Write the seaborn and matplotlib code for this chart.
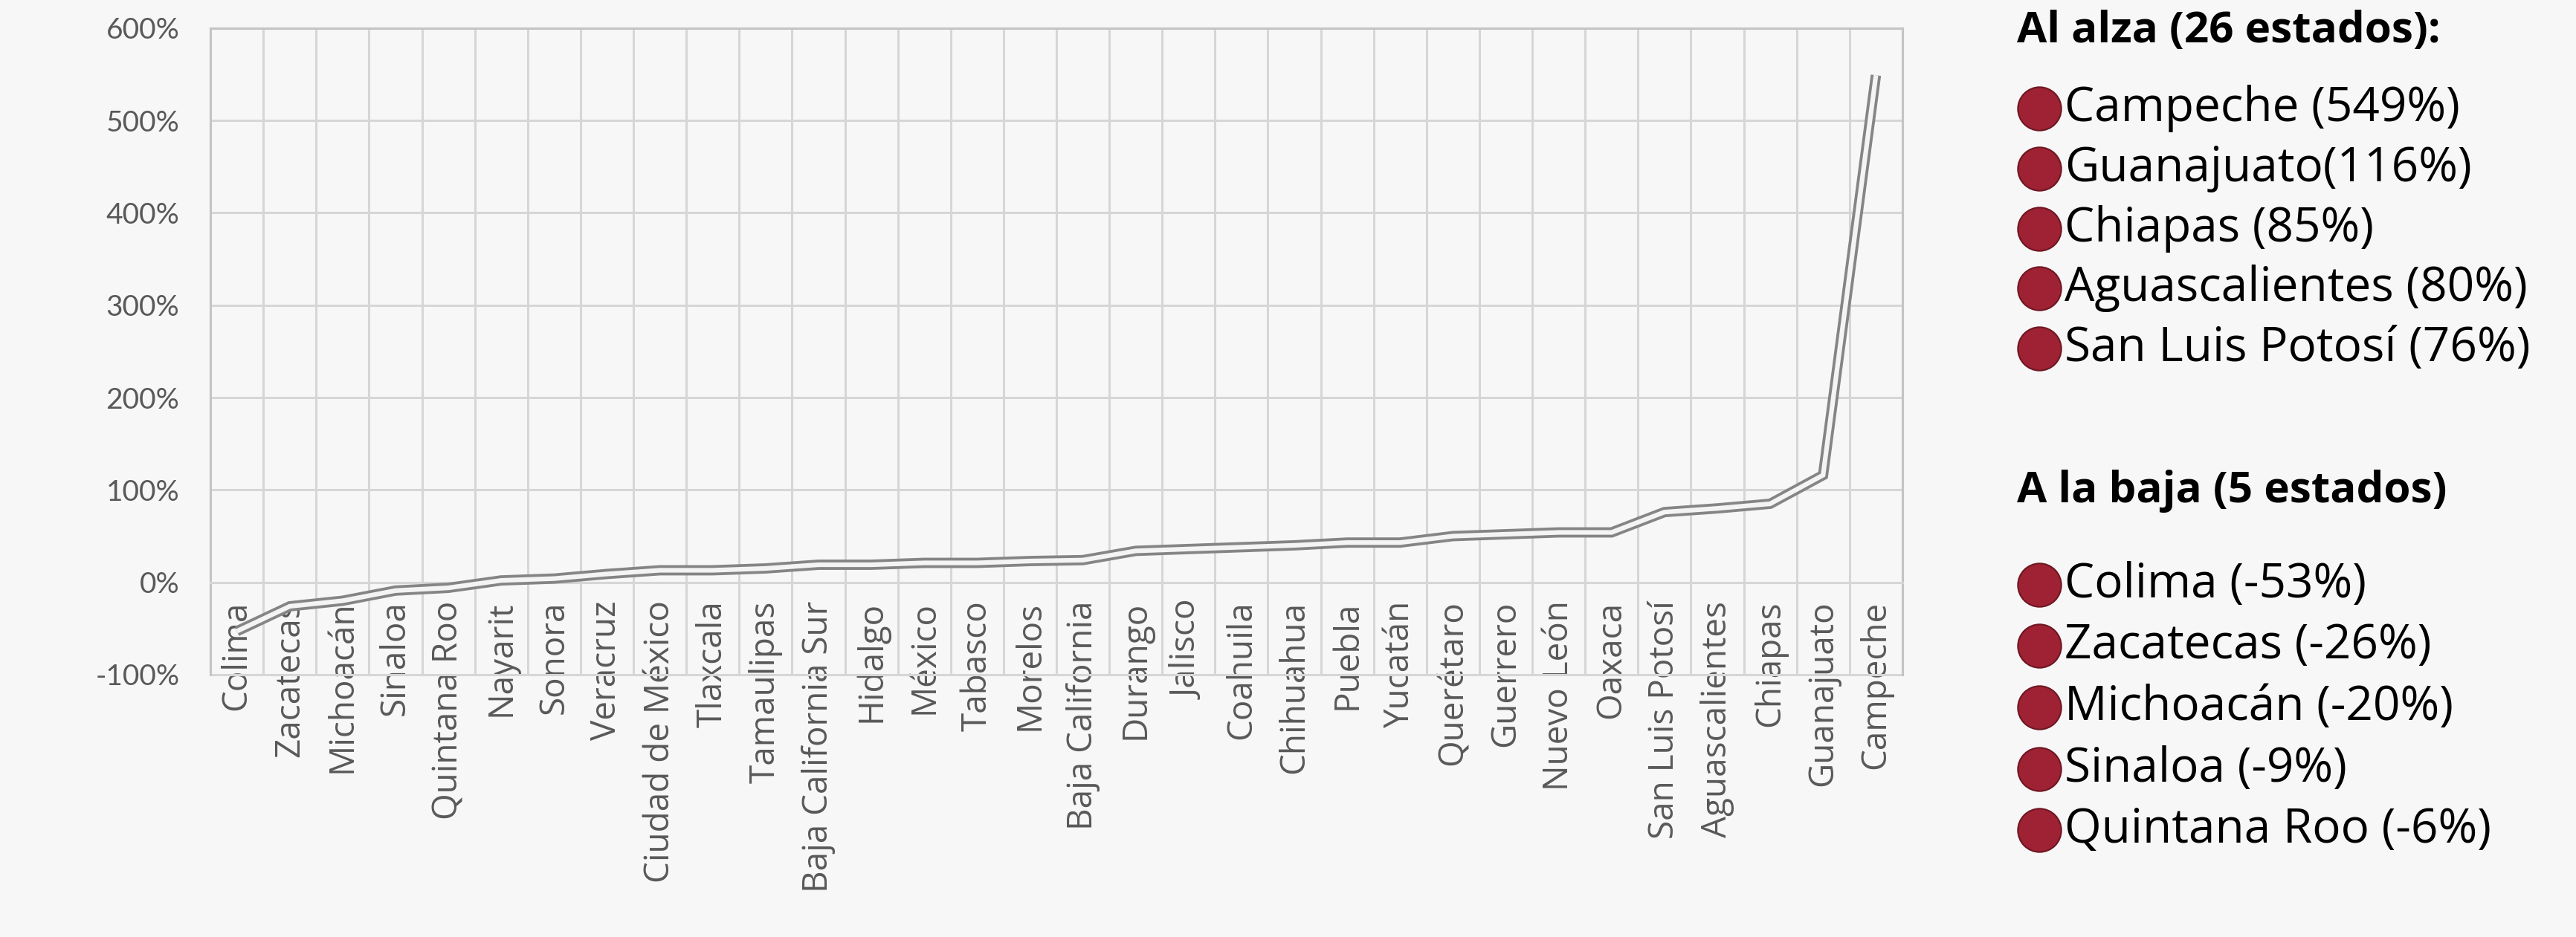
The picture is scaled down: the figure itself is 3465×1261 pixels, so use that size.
from matplotlib import pyplot as plt
import pandas as pd
import seaborn as sns
import numpy as np

# datos: variacion por estado (ordenado de menor a mayor)
estados = ["Colima", "Zacatecas", "Michoacán", "Sinaloa", "Quintana Roo", "Nayarit", "Sonora",
           "Veracruz", "Ciudad de México", "Tlaxcala", "Tamaulipas", "Baja California Sur",
           "Hidalgo", "México", "Tabasco", "Morelos", "Baja California", "Durango", "Jalisco",
           "Coahuila", "Chihuahua", "Puebla", "Yucatán", "Querétaro", "Guerrero", "Nuevo León",
           "Oaxaca", "San Luis Potosí", "Aguascalientes", "Chiapas", "Guanajuato", "Campeche"]
cambio = [-53, -26, -20, -9, -6, 2, 4, 9, 13, 13, 15, 19, 19, 21, 21, 23, 24, 34, 36, 38, 40,
          43, 43, 50, 52, 54, 54, 76, 80, 85, 116, 549]
y_ticks = [-100, 0, 100, 200, 300, 400, 500, 600]

alza_titulo = "Al alza (26 estados):"
alza = ["Campeche (549%)", "Guanajuato(116%)", "Chiapas (85%)", "Aguascalientes (80%)",
        "San Luis Potosí (76%)"]
baja_titulo = "A la baja (5 estados)"
baja = ["Colima (-53%)", "Zacatecas (-26%)", "Michoacán (-20%)", "Sinaloa (-9%)",
        "Quintana Roo (-6%)"]

BG = "#f7f7f7"
GRID = "#d6d6d6"
TXT = "#595959"
RED = "#9e2233"

df = pd.DataFrame({"estado": estados, "cambio": cambio})

sns.set_style("white")
plt.rcParams["font.family"] = ["Open Sans", "DejaVu Sans"]

fig = plt.figure(figsize=(34.65, 12.61), dpi=100, facecolor=BG)
ax = fig.add_axes([0.0817, 0.280, 0.6568, 0.690])
ax.set_facecolor(BG)

# linea doble: trazo gris grueso y uno claro encima
sns.lineplot(data=df, x="estado", y="cambio", sort=False, ax=ax, color="#858585",
             linewidth=10, solid_capstyle="butt", solid_joinstyle="miter", zorder=3)
sns.lineplot(data=df, x="estado", y="cambio", sort=False, ax=ax, color="#f4f4f4",
             linewidth=4.5, solid_capstyle="butt", solid_joinstyle="miter", zorder=4)

# eje horizontal cruza en 0 (como en Excel) -- antes de poner etiquetas
ax.spines["bottom"].set_position(("data", 0))
ax.spines["bottom"].set_color(GRID)
ax.spines["bottom"].set_linewidth(2.2)
for s in ["top", "right", "left"]:
    ax.spines[s].set_color("#c4c4c4")
    ax.spines[s].set_linewidth(2.2)

n = len(estados)
ax.set_xlim(-0.5, n - 0.5)
ax.set_ylim(-100, 600)
ax.set_yticks(y_ticks)
ax.set_yticklabels(["{}%".format(v) for v in y_ticks], fontsize=28, color=TXT,
                   family=["Lato", "DejaVu Sans"])
ax.set_xticks(range(n))
ax.set_xticklabels(estados, rotation=90, fontsize=33, color=TXT)
ax.set_xticks(np.arange(-0.5, n, 1), minor=True)
ax.tick_params(axis="both", which="both", length=0)
ax.tick_params(axis="x", pad=18)
ax.tick_params(axis="y", pad=30)

ax.grid(True, axis="y", which="major", color=GRID, linewidth=2.2)
ax.grid(True, axis="x", which="minor", color=GRID, linewidth=2.2)
ax.grid(False, axis="x", which="major")
for t in ax.yaxis.get_major_ticks() + ax.xaxis.get_minor_ticks():
    t.gridline.set_clip_on(False)
ax.set(xlabel="", ylabel="")

# leyenda de texto a la derecha
lg = fig.add_axes([0, 0, 1, 1], facecolor="none")
lg.set_xlim(0, 1)
lg.set_ylim(0, 1)
lg.axis("off")

x_tit, x_mark, x_txt = 0.783, 0.7915, 0.8015
lg.text(x_tit, 0.967, alza_titulo, fontsize=42, fontweight="bold", color="black",
        va="center", ha="left")
lg.text(x_tit, 0.476, baja_titulo, fontsize=42, fontweight="bold", color="black",
        va="center", ha="left")

y_alza = 0.884 - np.arange(len(alza)) * 0.0640
y_baja = 0.376 - np.arange(len(baja)) * 0.0655
for grupo, ys in [(alza, y_alza), (baja, y_baja)]:
    lg.plot([x_mark] * len(ys), ys, "o", markersize=42, color=RED,
            markeredgecolor="#6e1622", markeredgewidth=1.5)
    for t, yy in zip(grupo, ys):
        lg.text(x_txt, yy, t, fontsize=46, color="black", va="center", ha="left")

plt.savefig("out.png", dpi=100, facecolor=BG)
